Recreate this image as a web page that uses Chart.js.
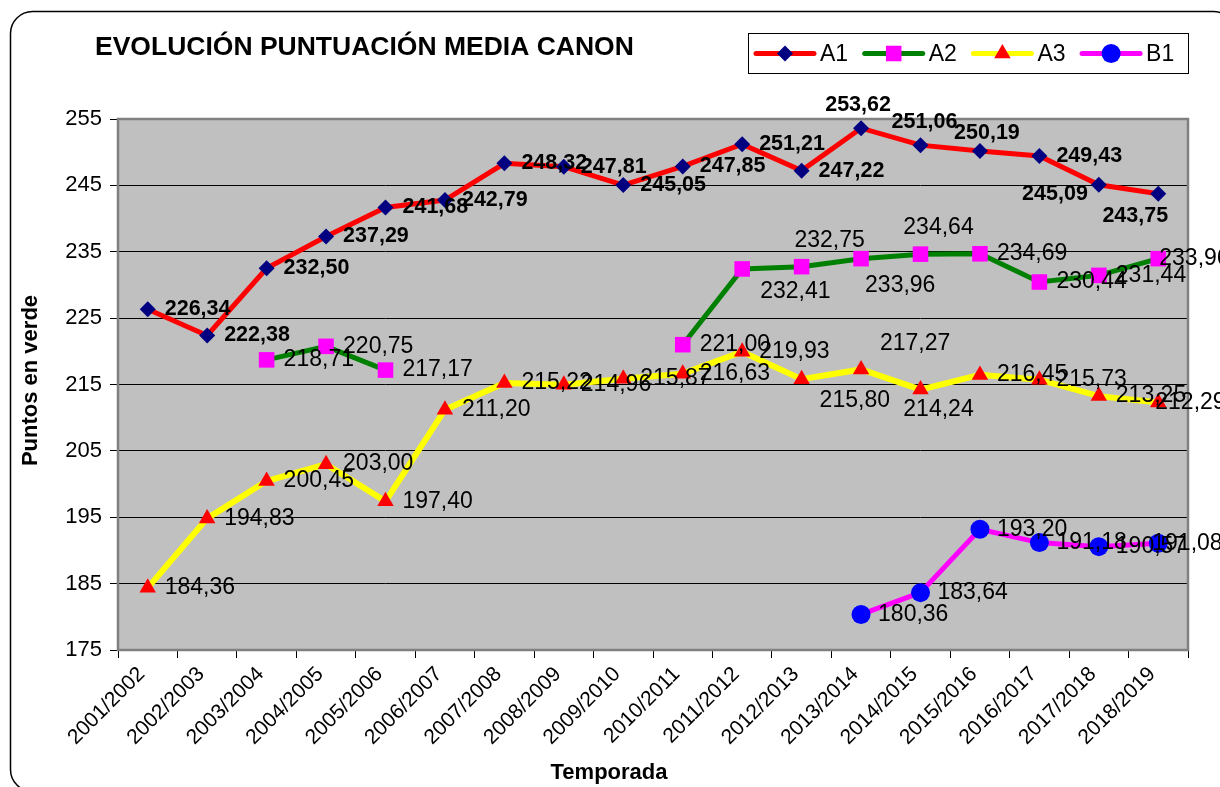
<!DOCTYPE html>
<html>
<head>
<meta charset="utf-8">
<script src="https://cdn.jsdelivr.net/npm/chart.js@4/dist/chart.umd.min.js"></script>
<style>
html,body{margin:0;padding:0;background:#fff;}
#wrap{width:1220px;height:787px;position:relative;}
canvas{display:block;}
</style>
</head>
<body>
<div id="wrap"><canvas id="c" width="1220" height="787"></canvas></div>
<script>
// ---- data ----
const categories = ['2001/2002','2002/2003','2003/2004','2004/2005','2005/2006','2006/2007','2007/2008','2008/2009','2009/2010','2010/2011','2011/2012','2012/2013','2013/2014','2014/2015','2015/2016','2016/2017','2017/2018','2018/2019'];
const seriesNames = ['A1','A2','A3','B1'];
const a1Values = [226.34,222.38,232.50,237.29,241.68,242.79,248.32,247.81,245.05,247.85,251.21,247.22,253.62,251.06,250.19,249.43,245.09,243.75];
const a2Values = [null,null,218.71,220.75,217.17,null,null,null,null,221.00,232.41,232.75,233.96,234.64,234.69,230.44,231.44,233.96];
const a3Values = [184.36,194.83,200.45,203.00,197.40,211.20,215.22,214.96,215.87,216.63,219.93,215.80,217.27,214.24,216.45,215.73,213.25,212.29];
const b1Values = [null,null,null,null,null,null,null,null,null,null,null,null,180.36,183.64,193.20,191.18,190.57,191.08];
const yTicks = [175,185,195,205,215,225,235,245,255];
const chartTitle = 'EVOLUCIÓN PUNTUACIÓN MEDIA CANON';
const xTitle = 'Temporada';
const yTitle = 'Puntos en verde';

// ---- label placement (offsets from the point, px) ----
const FONT = '"Liberation Sans", Arial, Helvetica, sans-serif';
const labelOverrides = [
  {12:[-3,-23,'center'],13:[4,-23,'center'],14:[7,-18,'center'],16:[-11,9,'right'],17:[-23,22,'center']},
  {10:[18,23,'left'],11:[28,-26,'center'],12:[4,27,'left'],13:[18,-26,'center'],17:[1,0,'left']},
  {11:[18,21,'left'],12:[54,-26,'center'],13:[18,20,'center'],17:[-3,0,'left']},
  {17:[-6,0,'left']}
];
const labelFonts = ['bold 21.5px ' + FONT, '23px ' + FONT, '23px ' + FONT, '23px ' + FONT];

const styles = [
  {line:'#FF0000', width:5, marker:'rectRot', radius:8, fill:'#000080'},
  {line:'#008000', width:5, marker:'rect', radius:11, fill:'#FF00FF'},
  {line:'#FFFF00', width:6, marker:'triangle', radius:9.5, fill:'#FF0000'},
  {line:'#FF00FF', width:5, marker:'circle', radius:9.5, fill:'#0000FF'}
];
const seriesValues = [a1Values, a2Values, a3Values, b1Values];

function drawMarker(ctx, style, x, y, r) {
  ctx.save();
  ctx.fillStyle = style.fill;
  ctx.beginPath();
  if (style.marker === 'rectRot') {
    ctx.moveTo(x - r, y); ctx.lineTo(x, y - r); ctx.lineTo(x + r, y); ctx.lineTo(x, y + r);
  } else if (style.marker === 'rect') {
    const s = r * Math.SQRT1_2;
    ctx.rect(x - s, y - s, 2 * s, 2 * s);
  } else if (style.marker === 'triangle') {
    const a = -Math.PI / 2;
    for (let k = 0; k < 3; k++) {
      const ang = a + k * 2 * Math.PI / 3;
      const px = x + Math.cos(ang) * r, py = y + Math.sin(ang) * r;
      k ? ctx.lineTo(px, py) : ctx.moveTo(px, py);
    }
  } else {
    ctx.arc(x, y, r, 0, Math.PI * 2);
  }
  ctx.closePath();
  ctx.fill();
  ctx.restore();
}

function fmt(v) { return v.toFixed(2).replace('.', ','); }

const decor = {
  id: 'decor',
  beforeDraw(chart) {
    const ctx = chart.ctx, a = chart.chartArea;
    ctx.save();
    ctx.fillStyle = '#fff';
    ctx.fillRect(0, 0, chart.width, chart.height);
    ctx.strokeStyle = '#000';
    ctx.lineWidth = 1.5;
    ctx.beginPath();
    ctx.roundRect(10.5, 11.5, 1225, 780, 22);
    ctx.stroke();
    ctx.fillStyle = '#C0C0C0';
    ctx.fillRect(a.left, a.top, a.right - a.left, a.bottom - a.top);
    ctx.restore();
  },
  beforeDatasetsDraw(chart) {
    const ctx = chart.ctx, a = chart.chartArea;
    ctx.save();
    ctx.strokeStyle = '#808080';
    ctx.lineWidth = 2.5;
    ctx.strokeRect(a.left, a.top, a.right - a.left, a.bottom - a.top);
    ctx.restore();
  },
  afterDatasetsDraw(chart) {
    const ctx = chart.ctx;
    ctx.save();
    ctx.fillStyle = '#000';
    ctx.textBaseline = 'middle';
    chart.data.datasets.forEach((ds, i) => {
      const meta = chart.getDatasetMeta(i);
      ctx.font = labelFonts[i];
      ds.data.forEach((v, j) => {
        if (v === null || v === undefined) return;
        const pt = meta.data[j];
        const o = labelOverrides[i][j] || [17, 0, 'left'];
        ctx.textAlign = o[2];
        ctx.fillText(fmt(v), pt.x + o[0], pt.y + o[1]);
      });
    });
    ctx.restore();
  },
  afterDraw(chart) {
    const ctx = chart.ctx, a = chart.chartArea;
    ctx.save();
    ctx.fillStyle = '#000';
    ctx.font = 'bold 26.5px ' + FONT;
    ctx.textAlign = 'left';
    ctx.textBaseline = 'middle';
    ctx.fillText(chartTitle, 95, 48);
    ctx.font = 'bold 22px ' + FONT;
    ctx.textAlign = 'center';
    ctx.fillText(xTitle, 609, 773);
    ctx.save();
    ctx.translate(31, (a.top + a.bottom) / 2 - 4);
    ctx.rotate(-Math.PI / 2);
    ctx.fillText(yTitle, 0, 0);
    ctx.restore();
    // legend
    ctx.fillStyle = '#fff';
    ctx.fillRect(748.5, 33.5, 440, 40);
    ctx.strokeStyle = '#000';
    ctx.lineWidth = 1;
    ctx.strokeRect(748.5, 33.5, 440, 40);
    const ly = 53.5;
    ctx.font = '23px ' + FONT;
    ctx.textAlign = 'left';
    seriesNames.forEach((name, k) => {
      const st = styles[k];
      const x0 = 756 + k * 108.7;
      ctx.strokeStyle = st.line;
      ctx.lineWidth = 5;
      ctx.lineCap = 'round';
      ctx.beginPath();
      ctx.moveTo(x0, ly); ctx.lineTo(x0 + 58, ly);
      ctx.stroke();
      drawMarker(ctx, st, x0 + 29, ly, st.radius);
      ctx.fillStyle = '#000';
      ctx.fillText(name, x0 + 64, ly + 1);
    });
    ctx.restore();
  }
};

const datasets = seriesNames.map((name, k) => ({
  label: name,
  data: seriesValues[k],
  borderColor: styles[k].line,
  backgroundColor: styles[k].fill,
  borderWidth: styles[k].width,
  pointStyle: styles[k].marker,
  pointRadius: styles[k].radius,
  pointBackgroundColor: styles[k].fill,
  pointBorderColor: styles[k].fill,
  pointBorderWidth: 0,
  tension: 0,
  spanGaps: false,
  fill: false
}));

new Chart(document.getElementById('c'), {
  type: 'line',
  data: { labels: categories, datasets },
  options: {
    responsive: false,
    devicePixelRatio: 1,
    animation: false,
    events: [],
    layout: { padding: { left: 0, right: 32, top: 119, bottom: 0 } },
    plugins: { legend: { display: false }, title: { display: false }, tooltip: { enabled: false } },
    scales: {
      x: {
        type: 'category',
        offset: true,
        grid: { offset: true, drawOnChartArea: false, drawTicks: true, tickLength: 8, color: '#000', lineWidth: 1 },
        border: { display: false },
        ticks: { color: '#000', font: { family: FONT, size: 21 }, minRotation: 45, maxRotation: 45, padding: 4, labelOffset: -6, autoSkip: false },
        afterFit(scale) { scale.height = 137; }
      },
      y: {
        min: yTicks[0],
        max: yTicks[yTicks.length - 1],
        afterBuildTicks(scale) { scale.ticks = yTicks.map(v => ({ value: v })); },
        grid: { color: '#000', lineWidth: 1, tickLength: 8, drawTicks: true },
        border: { display: false },
        ticks: { color: '#000', font: { family: FONT, size: 22 }, padding: 8 },
        afterFit(scale) { scale.width = 118; }
      }
    }
  },
  plugins: [decor]
});
</script>
</body>
</html>
